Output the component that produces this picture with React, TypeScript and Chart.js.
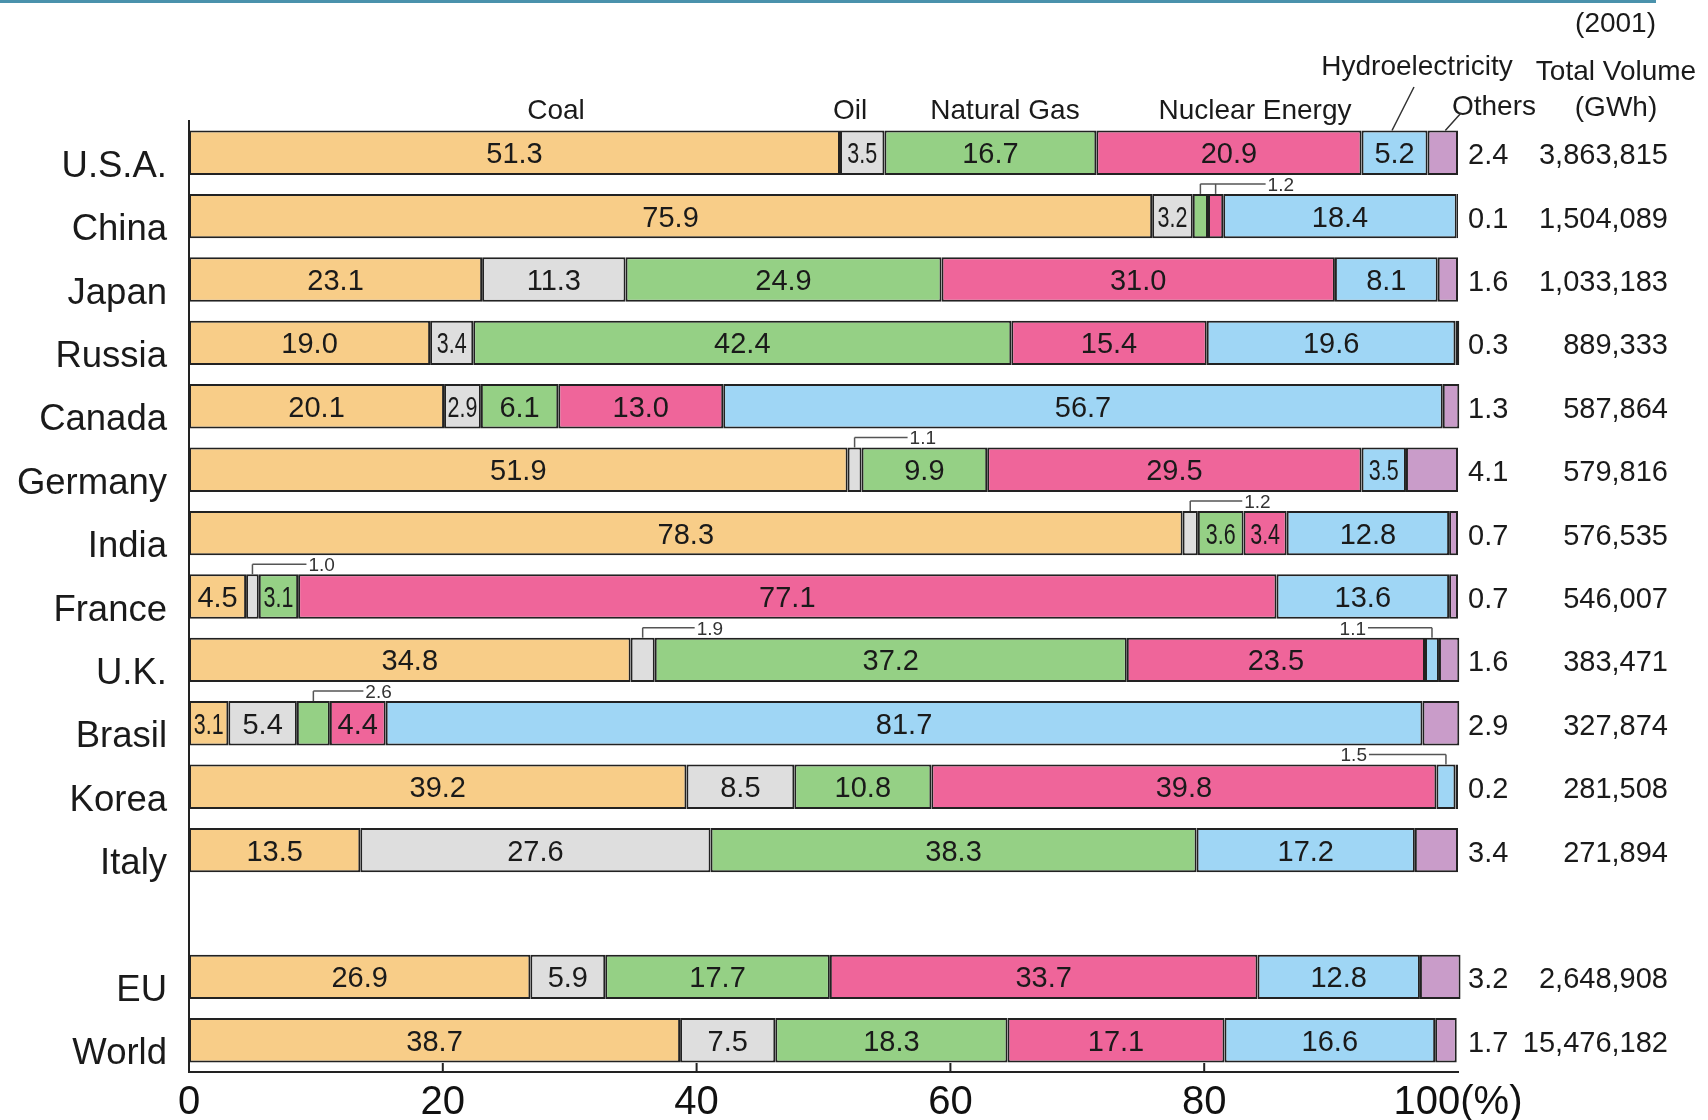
import React, { useEffect, useRef } from "react";
import { Chart, registerables } from "chart.js";

Chart.register(...registerables);

const countries = ["U.S.A.", "China", "Japan", "Russia", "Canada", "Germany", "India", "France", "U.K.", "Brasil", "Korea", "Italy", "", "EU", "World"];
const coal = [51.3, 75.9, 23.1, 19.0, 20.1, 51.9, 78.3, 4.5, 34.8, 3.1, 39.2, 13.5, null, 26.9, 38.7];
const oil = [3.5, 3.2, 11.3, 3.4, 2.9, 1.1, 1.2, 1.0, 1.9, 5.4, 8.5, 27.6, null, 5.9, 7.5];
const naturalGas = [16.7, 1.2, 24.9, 42.4, 6.1, 9.9, 3.6, 3.1, 37.2, 2.6, 10.8, 38.3, null, 17.7, 18.3];
const nuclear = [20.9, 1.2, 31.0, 15.4, 13.0, 29.5, 3.4, 77.1, 23.5, 4.4, 39.8, null, null, 33.7, 17.1];
const hydro = [5.2, 18.4, 8.1, 19.6, 56.7, 3.5, 12.8, 13.6, 1.1, 81.7, 1.5, 17.2, null, 12.8, 16.6];
const others = [2.4, 0.1, 1.6, 0.3, 1.3, 4.1, 0.7, 0.7, 1.6, 2.9, 0.2, 3.4, null, 3.2, 1.7];
const totalVolume = ["3,863,815", "1,504,089", "1,033,183", "889,333", "587,864", "579,816", "576,535", "546,007", "383,471", "327,874", "281,508", "271,894", "", "2,648,908", "15,476,182"];
const seriesNames = ["Coal", "Oil", "Natural Gas", "Nuclear Energy", "Hydroelectricity", "Others"];
const seriesColors = ["#F8CD88", "#DEDEDE", "#95D085", "#EF659A", "#9FD6F5", "#C99CC9"];
const xTickValues = [0, 20, 40, 60, 80, 100];
const yearLabel = "(2001)";
const volumeHeader = ["Total Volume", "(GWh)"];

// small-value callouts: row index, series indices, direction, leader length (px)
const callouts = [
  { row: 1, series: [2, 3], dir: 1, len: 50 },
  { row: 5, series: [1], dir: 1, len: 53 },
  { row: 6, series: [1], dir: 1, len: 52 },
  { row: 7, series: [1], dir: 1, len: 54 },
  { row: 8, series: [1], dir: 1, len: 52 },
  { row: 8, series: [4], dir: -1, len: 64 },
  { row: 9, series: [2], dir: 1, len: 50 },
  { row: 10, series: [4], dir: -1, len: 77 },
];

const FONT = '"Liberation Sans", Arial, Helvetica, sans-serif';

function drawText(ctx: CanvasRenderingContext2D, text: string, x: number, cy: number, size: number, align: CanvasTextAlign, sx = 1, color = "#1a1a1a") {
  ctx.save();
  ctx.font = `${size}px ${FONT}`;
  ctx.fillStyle = color;
  ctx.textAlign = align;
  ctx.textBaseline = "alphabetic";
  ctx.translate(x, cy + size * 0.36);
  ctx.scale(sx, 1);
  ctx.fillText(text, 0, 0);
  ctx.restore();
}

const annotPlugin = {
  id: "annot",
  afterDatasetsDraw(chart: any) {
    const ctx: CanvasRenderingContext2D = chart.ctx;
    const xs = chart.scales.x;
    const ys = chart.scales.y;
    const area = chart.chartArea;

    // top rule
    ctx.save();
    ctx.fillStyle = "#4a92ac";
    ctx.fillRect(0, 0, 1656, 3);
    ctx.restore();

    // segment labels
    for (let d = 0; d < 5; d++) {
      const meta = chart.getDatasetMeta(d);
      const vals = chart.data.datasets[d].data;
      meta.data.forEach((el: any, i: number) => {
        const v = vals[i];
        if (v == null || v < 2.8) return;
        const p = el.getProps(["x", "y", "base"], true);
        const cx = (p.x + p.base) / 2;
        drawText(ctx, v.toFixed(1), cx, p.y, 29, "center", v < 4 ? 0.74 : 1);
      });
    }

    // row labels, others values, total volumes
    countries.forEach((c, i) => {
      if (!c) return;
      const cy = ys.getPixelForValue(i);
      drawText(ctx, c, 167, cy + 11, 36.5, "right");
      if (others[i] != null) drawText(ctx, (others[i] as number).toFixed(1), 1468, cy + 1, 29, "left");
      drawText(ctx, totalVolume[i], 1668, cy + 1, 29, "right");
    });

    // callouts
    ctx.save();
    ctx.strokeStyle = "#555";
    ctx.lineWidth = 1.5;
    callouts.forEach((co) => {
      const xsList: number[] = [];
      let top = 0;
      co.series.forEach((s) => {
        const el: any = chart.getDatasetMeta(s).data[co.row];
        const p = el.getProps(["x", "y", "base", "height"], true);
        xsList.push((p.x + p.base) / 2);
        top = p.y - p.height / 2;
      });
      const ly = top - 10;
      xsList.forEach((x) => {
        ctx.beginPath();
        ctx.moveTo(x, top);
        ctx.lineTo(x, ly);
        ctx.stroke();
      });
      const start = co.dir > 0 ? Math.min(...xsList) : Math.max(...xsList);
      const end = co.dir > 0 ? Math.max(...xsList) + co.len : Math.min(...xsList) - co.len;
      ctx.beginPath();
      ctx.moveTo(start, ly);
      ctx.lineTo(end, ly);
      ctx.stroke();
      const v = chart.data.datasets[co.series[0]].data[co.row] as number;
      drawText(ctx, v.toFixed(1), end + (co.dir > 0 ? 2 : -2), ly, 19, co.dir > 0 ? "left" : "right", 1, "#333");
    });
    ctx.restore();

    // inward x ticks
    ctx.save();
    ctx.strokeStyle = "#222";
    ctx.lineWidth = 2;
    xTickValues.slice(1, -1).forEach((v) => {
      const x = xs.getPixelForValue(v);
      ctx.beginPath();
      ctx.moveTo(x, area.bottom);
      ctx.lineTo(x, area.bottom - 9);
      ctx.stroke();
    });
    ctx.restore();

    // headers
    drawText(ctx, yearLabel, 1656, 22, 28, "right");
    drawText(ctx, seriesNames[4], 1417, 65, 28, "center");
    drawText(ctx, volumeHeader[0], 1616, 70, 28, "center");
    drawText(ctx, volumeHeader[1], 1616, 106, 28, "center");
    drawText(ctx, seriesNames[5], 1494, 105, 28, "center");
    drawText(ctx, seriesNames[0], 556, 109, 28, "center");
    drawText(ctx, seriesNames[1], 850, 109, 28, "center");
    drawText(ctx, seriesNames[2], 1005, 109, 28, "center");
    drawText(ctx, seriesNames[3], 1255, 109, 28, "center");

    // header leader lines
    const usaEl: any = chart.getDatasetMeta(0).data[0];
    const usaP = usaEl.getProps(["y", "height"], true);
    const usaTop = usaP.y - usaP.height / 2;
    ctx.save();
    ctx.strokeStyle = "#333";
    ctx.lineWidth = 1.5;
    ctx.beginPath();
    ctx.moveTo(1414, 87);
    ctx.lineTo(xs.getPixelForValue(94.8), usaTop);
    ctx.moveTo(1461, 113);
    ctx.lineTo(xs.getPixelForValue(99.0), usaTop);
    ctx.stroke();
    ctx.restore();
  },
};

export default function App() {
  const ref = useRef<HTMLCanvasElement>(null);
  useEffect(() => {
    if (!ref.current) return;
    const series = [coal, oil, naturalGas, nuclear, hydro, others];
    const chart = new Chart(ref.current, {
      type: "bar",
      data: {
        labels: countries,
        datasets: series.map((d, i) => ({
          label: seriesNames[i],
          data: d as any,
          backgroundColor: seriesColors[i],
          borderColor: "#222",
          borderWidth: 2,
          borderSkipped: false,
          clip: false as any,
          categoryPercentage: 1,
          barPercentage: 0.7,
        })),
      },
      options: {
        indexAxis: "y",
        responsive: false,
        animation: false,
        devicePixelRatio: 1,
        layout: { padding: { left: 189, right: 250, top: 121, bottom: 0 } },
        plugins: { legend: { display: false }, tooltip: { enabled: false } },
        scales: {
          x: {
            stacked: true,
            min: 0,
            max: 100,
            afterBuildTicks: (axis: any) => {
              axis.ticks = xTickValues.map((v) => ({ value: v }));
            },
            grid: { display: false, drawTicks: true, tickLength: 8 },
            border: { display: true, color: "#222", width: 2 },
            ticks: {
              padding: 3,
              color: "#111",
              font: { family: FONT, size: 40, lineHeight: 1 },
              maxRotation: 0,
              autoSkip: false,
              callback: (v: any) => (v === 100 ? "100(%)" : String(v)),
            },
          },
          y: {
            stacked: true,
            grid: { display: false, drawTicks: false },
            border: { display: true, color: "#222", width: 2 },
            ticks: { display: false },
          },
        },
      },
      plugins: [annotPlugin],
    });
    return () => chart.destroy();
  }, []);
  return (
    <div style={{ position: "fixed", left: 0, top: 0, width: 1708, height: 1120, background: "#fff", overflow: "hidden" }}>
      <canvas ref={ref} width={1708} height={1126} style={{ width: 1708, height: 1126, display: "block" }} />
    </div>
  );
}
